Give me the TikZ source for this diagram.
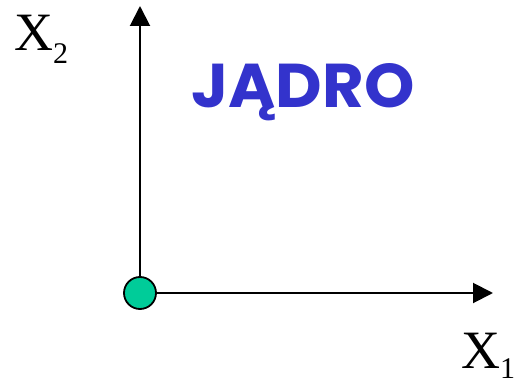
\documentclass[tikz,border=0pt]{standalone}
\usepackage{fontspec}
\setmainfont{Liberation Serif}
\newfontfamily\titlefont{Poppins}
\usetikzlibrary{arrows.meta}
\definecolor{origincol}{RGB}{0,204,153}
\definecolor{titleblue}{RGB}{51,51,204}
\tikzset{
  axis/.style={line width=2pt, -{Triangle[length=20pt,width=20pt]}},
  axlabel/.style={anchor=base west, inner sep=0pt, font=\fontsize{54}{60}\selectfont},
  title/.style={text=titleblue, inner sep=0pt, font=\titlefont\bfseries}
}
\newcommand{\subidx}[2][13pt]{\raisebox{-#1}{\fontsize{30}{34}\selectfont #2}}
\begin{document}
\begin{tikzpicture}[x=1pt,y=1pt]
\useasboundingbox (0,0) rectangle (515,384);
\node[circle, draw=black, line width=1.8pt, fill=origincol, minimum size=32pt, inner sep=0pt] (o) at (140,91) {};
\coordinate (ytip) at (140,378);
\coordinate (xtip) at (493,91);
\draw[axis] (o.north) -- (ytip);
\draw[axis] (o.east) -- (xtip);
\node[axlabel] (x2) at (14,334) {X\subidx{2}};
\node[axlabel] (x1) at (461,16) {X\subidx[10pt]{1}};
\node[title] (t) at (303,292) {\resizebox{223pt}{44pt}{JĄDRO}};
\end{tikzpicture}
\end{document}
